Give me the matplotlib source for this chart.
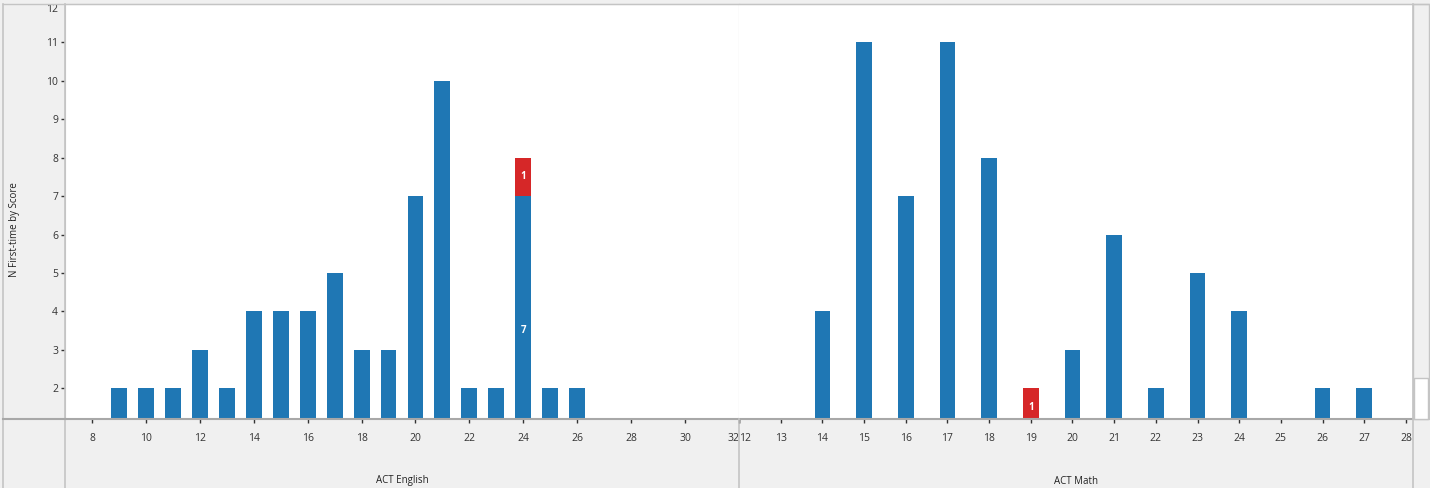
import matplotlib.pyplot as plt
from matplotlib.lines import Line2D
from matplotlib.patches import Rectangle

# ACT English counts by score
eng_scores = [9, 10, 11, 12, 13, 14, 15, 16, 17, 18, 19, 20, 21, 22, 23, 24, 25, 26]
eng_blue = [2, 2, 2, 3, 2, 4, 4, 4, 5, 3, 3, 7, 10, 2, 2, 7, 2, 2]
eng_red = [0, 0, 0, 0, 0, 0, 0, 0, 0, 0, 0, 0, 0, 0, 0, 1, 0, 0]

# ACT Math counts by score
math_scores = [14, 15, 16, 17, 18, 19, 20, 21, 22, 23, 24, 26, 27]
math_blue = [4, 11, 7, 11, 8, 1, 3, 6, 2, 5, 4, 2, 2]
math_red = [0, 0, 0, 0, 0, 1, 0, 0, 0, 0, 0, 0, 0]

eng_ticks = [8, 10, 12, 14, 16, 18, 20, 22, 24, 26, 28, 30, 32]
math_ticks = list(range(12, 29))

BLUE = '#1f77b4'
RED = '#d62728'
GRID = '#c4c4c4'
W, H = 1430, 488

plt.rcParams['font.family'] = ['Open Sans', 'DejaVu Sans']
fig = plt.figure(figsize=(W / 100, H / 100), dpi=100, facecolor='#f0f0f0')


def fx(px):
    return px / W


def fy(py):
    return 1 - py / H


ax_top, ax_bot = 4, 419
panels = [
    (65, 739, eng_scores, eng_blue, eng_red, eng_ticks, (7, 32), 0.59, 'ACT English'),
    (739, 1413, math_scores, math_blue, math_red, math_ticks, (12, 28.17), 0.377, 'ACT Math'),
]

for i, (x0, x1, scores, blue, red, ticks, xlim, width, name) in enumerate(panels):
    ax = fig.add_axes([fx(x0), fy(ax_bot), fx(x1 - x0), fy(ax_top) - fy(ax_bot)])
    ax.set_facecolor('white')
    ax.bar(scores, blue, width=width, color=BLUE, zorder=2)
    ax.bar(scores, red, width=width, bottom=blue, color=RED, zorder=2)
    ymin, ymax = 1.2, 12.0
    for s, b, r in zip(scores, blue, red):
        if r > 0:
            ax.text(s, b + r / 2, str(r), color='white', fontsize=7, fontweight='bold',
                    ha='center', va='center', zorder=3)
            if b / 2 > ymin:
                ax.text(s, b / 2, str(b), color='white', fontsize=7, fontweight='bold',
                        ha='center', va='center', zorder=3)
    ax.set_xlim(*xlim)
    ax.set_ylim(ymin, ymax)
    ax.set_xticks(ticks)
    ax.tick_params(axis='x', length=3, width=1, color='#333333', labelsize=7.5,
                   labelcolor='#333333', pad=7)
    labels = ax.get_xticklabels()
    if i == 0:
        labels[-1].set_horizontalalignment('right')
    else:
        labels[0].set_horizontalalignment('left')
    for sp in ax.spines.values():
        sp.set_color(GRID)
    ax.spines['bottom'].set_color('#a8a8a8')
    ax.spines['bottom'].set_linewidth(1.5)
    if i == 0:
        ax.set_yticks(range(2, 13))
        ax.tick_params(axis='y', length=3, width=1, color='#333333', labelsize=7.5,
                       labelcolor='#333333', pad=2)
        ylabels = ax.get_yticklabels()
        ylabels[-1].set_verticalalignment('top')
        ax.yaxis.get_major_ticks()[-1].tick1line.set_visible(False)
    else:
        ax.set_yticks([])
        ax.spines['left'].set_visible(False)
    fig.text(fx((x0 + x1) / 2), fy(481), name, ha='center', va='center', fontsize=7,
             color='#222222')

fig.text(fx(14), fy(230), 'N First-time by Score', rotation=90, ha='center', va='center',
         fontsize=7, color='#222222')

# frame lines around the panels
for px in [3, 65, 739, 1413]:
    top = 4 if px in (3, 65, 1413) else 419
    fig.add_artist(Line2D([fx(px), fx(px)], [fy(top), 0], color=GRID, lw=1.2))
fig.add_artist(Line2D([fx(3), fx(65)], [fy(ax_bot), fy(ax_bot)], color='#a8a8a8', lw=1.5))
fig.add_artist(Line2D([fx(3), fx(1430)], [fy(4), fy(4)], color=GRID, lw=1))

# scrollbar strip on the right
fig.add_artist(Rectangle((fx(1413), fy(419)), fx(16), fy(4) - fy(419), facecolor='#f0f0f0',
                         edgecolor=GRID, lw=1))
fig.add_artist(Rectangle((fx(1414), fy(419)), fx(14), fy(378) - fy(419), facecolor='white',
                         edgecolor=GRID, lw=1))

fig.savefig('out.png', dpi=100, facecolor=fig.get_facecolor())
